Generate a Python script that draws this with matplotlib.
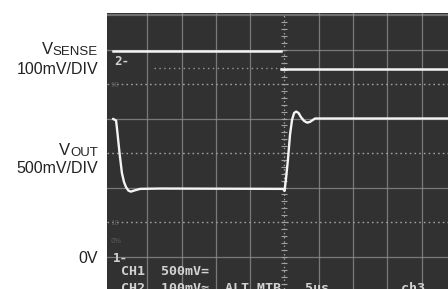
import numpy as np
import matplotlib
matplotlib.use("Agg")
import matplotlib.pyplot as plt

# ---- data (in scope divisions) ----
vout_t = [0.00, 0.09, 0.13, 0.19, 0.26, 0.32, 0.38, 0.45, 0.52, 0.61, 0.79, 1.37,
          4.96, 5.00, 5.04, 5.10, 5.16, 5.22, 5.28, 5.34, 5.41, 5.48, 5.57, 5.66,
          5.74, 5.89, 9.77]
vout_v = [4.99, 4.94, 4.58, 4.00, 3.42, 3.16, 3.01, 2.91, 2.88, 2.91, 2.96, 2.97,
          2.96, 2.90, 3.22, 3.80, 4.52, 4.96, 5.16, 5.20, 5.16, 5.04, 4.93, 4.88,
          4.90, 5.00, 5.00]
vsense_high_t = [0.00, 4.90]
vsense_high_v = [6.96, 6.96]
vsense_low_t = [4.90, 9.77]
vsense_low_v = [6.43, 6.43]

solid_h = [1, 3, 5, 7]
dotted_h = [2, 6]
center_h = 4
vert_lines = [1, 2, 3, 4, 6, 7, 8, 9]
center_v = 5

left_labels = ["100mV/DIV", "500mV/DIV", "0V"]
screen_text1 = "CH1  500mV="
screen_text2 = "CH2  100mV\u2248  ALT MTB   5\u00b5s         ch3"

W, H = 448, 289
fig = plt.figure(figsize=(W / 100, H / 100), dpi=100)
fig.patch.set_facecolor("white")

ax = fig.add_axes([107 / W, 0, (W - 107) / W, (H - 13) / H])
ax.set_facecolor("#313131")
ax.set_xlim(-0.175, 9.767)
ax.set_ylim(0.058, 8.058)
for s in ax.spines.values():
    s.set_visible(False)
ax.set_xticks([])
ax.set_yticks([])

gcol = "#8c8c8c"
for x in vert_lines:
    ax.axvline(x, color=gcol, lw=0.9, alpha=0.8, zorder=1)
for y in solid_h:
    ax.axhline(y, color=gcol, lw=0.9, alpha=0.8, zorder=1)
ax.axhline(8.0, color="#9a9a9a", lw=1.6, alpha=0.6, zorder=1)
for y in dotted_h:
    ax.axhline(y, color="#a0a0a0", lw=1.0, ls=(0, (1.2, 2.2)), zorder=1)
ax.axhline(center_h, color="#a0a0a0", lw=1.0, ls=(0, (1.2, 2.2)), zorder=1)
ax.axvline(center_v, color="#a0a0a0", lw=0.9, ls=(0, (1.2, 2.2)), zorder=1)
ticks = np.arange(0.2, 8.0, 0.2)
ax.plot([center_v] * len(ticks), ticks, ls="none", marker="_", ms=4,
        mew=0.8, color="#a0a0a0", zorder=1)
# faint reference dots
ax.plot([1.2, 4.9], [6.46, 6.46], color="#9a9a9a", lw=1.0,
        ls=(0, (1, 2.5)), zorder=1)

# traces
tc = "#f4f4f4"
ax.plot(vout_t, vout_v, color=tc, lw=1.7, solid_capstyle="round",
        solid_joinstyle="round", zorder=3)
ax.plot(vsense_high_t, vsense_high_v, color=tc, lw=1.8, zorder=3)
ax.plot(vsense_low_t, vsense_low_v, color=tc, lw=1.8, zorder=3)

# on-screen text
mono = dict(family="DejaVu Sans Mono", weight="bold", color="#d2d2d2")
def px(x, y):
    return x / W, 1 - y / H
fig.text(*px(114, 65), "2-", fontsize=9, **mono)
fig.text(*px(113, 262), "1-", fontsize=9, **mono)
fig.text(*px(121, 275), screen_text1, fontsize=9.6, **mono)
fig.text(*px(121, 292), screen_text2, fontsize=9.6, **mono)
faint = dict(family="DejaVu Sans", color="#5c5c5c", fontsize=5)
fig.text(*px(110, 87), "90", **faint)
fig.text(*px(110, 225), "10", **faint)
fig.text(*px(110, 243), "0%", **faint)

# left labels
lab = dict(family="Liberation Sans", color="#222222", ha="right", va="baseline")
fig.text(*px(98, 74), left_labels[0], fontsize=11.5, **lab)
fig.text(*px(98, 173), left_labels[1], fontsize=11.5, **lab)
fig.text(*px(98, 263), left_labels[2], fontsize=11.5, **lab)

fig.canvas.draw()
r = fig.canvas.get_renderer()
for sub, yb in [("SENSE", 55), ("OUT", 156)]:
    t = fig.text(*px(98, yb), sub, fontsize=9.5, **lab)
    bb = t.get_window_extent(renderer=r)
    fig.text(bb.x0 / W, 1 - (yb - 1) / H, "V", fontsize=12, **lab)

fig.savefig("out.png", dpi=100, facecolor="white")
